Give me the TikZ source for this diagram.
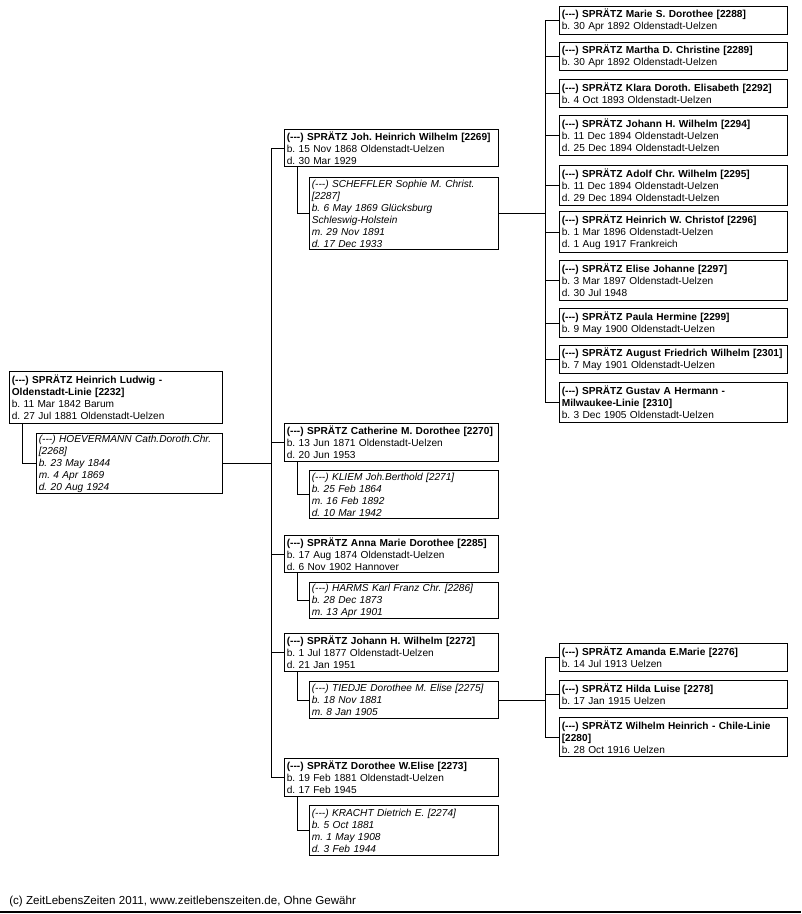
\documentclass[tikz,border=0pt]{standalone}
\usepackage{fontspec}
\setmainfont{Liberation Sans}[Ligatures=TeXOff]
\usetikzlibrary{calc}
\frenchspacing
\newcommand\nm[1]{\mbox{\textbf{#1}}}
\begin{document}
\begin{tikzpicture}[x=0.75pt,y=-0.75pt,
  box/.style={draw, line width=0.75pt, anchor=north west, inner xsep=1.75pt, inner ysep=0pt,
    align=left, font=\fontsize{7.6}{9}\selectfont\frenchspacing},
  rootbox/.style={box, text width=156.25pt},
  rootsp/.style={box, text width=136pt, font=\fontsize{7.6}{9}\selectfont\frenchspacing\itshape},
  child/.style={box, text width=157pt},
  spouse/.style={box, text width=138.25pt, font=\fontsize{7.6}{9}\selectfont\frenchspacing\itshape},
  grand/.style={box, text width=167.5pt},
  conn/.style={line width=0.75pt},
  footer/.style={anchor=base west, inner sep=0pt, font=\fontsize{8.7}{10}\selectfont\frenchspacing}]
\useasboundingbox (0,0) rectangle (801,914);
\fill[white] (0,0) rectangle (801,914);

% generation 1
\node[rootbox, minimum height=39pt] (root) at (9,371)
  {\nm{(---) SPRÄTZ Heinrich Ludwig -}\\\nm{Oldenstadt-Linie [2232]}\\b. 11 Mar 1842 Barum\\d. 27 Jul 1881 Oldenstadt-Uelzen};
\node[rootsp, minimum height=45pt] (s2268) at (36,433)
  {\mbox{(---) HOEVERMANN Cath.Doroth.Chr.}\\{}[2268]\\b. 23 May 1844\\m. 4 Apr 1869\\d. 20 Aug 1924};

% generation 2
\node[child, minimum height=28pt] (c2269) at (284,129)
  {\nm{(---) SPRÄTZ Joh. Heinrich Wilhelm [2269]}\\b. 15 Nov 1868 Oldenstadt-Uelzen\\d. 30 Mar 1929};
\node[spouse, minimum height=54pt] (s2287) at (309,177)
  {(---) SCHEFFLER Sophie M. Christ.\\{}[2287]\\b. 6 May 1869 Glücksburg\\Schleswig-Holstein\\m. 29 Nov 1891\\d. 17 Dec 1933};

\node[child, minimum height=28.5pt] (c2270) at (284,423)
  {\nm{(---) SPRÄTZ Catherine M. Dorothee [2270]}\\b. 13 Jun 1871 Oldenstadt-Uelzen\\d. 20 Jun 1953};
\node[spouse, minimum height=36pt] (s2271) at (309,470)
  {(---) KLIEM Joh.Berthold [2271]\\b. 25 Feb 1864\\m. 16 Feb 1892\\d. 10 Mar 1942};

\node[child, minimum height=28pt] (c2285) at (284,535)
  {\nm{(---) SPRÄTZ Anna Marie Dorothee [2285]}\\b. 17 Aug 1874 Oldenstadt-Uelzen\\d. 6 Nov 1902 Hannover};
\node[spouse, minimum height=27pt] (s2286) at (309,582)
  {(---) HARMS Karl Franz Chr. [2286]\\b. 28 Dec 1873\\m. 13 Apr 1901};

\node[child, minimum height=28.5pt] (c2272) at (284,633)
  {\nm{(---) SPRÄTZ Johann H. Wilhelm [2272]}\\b. 1 Jul 1877 Oldenstadt-Uelzen\\d. 21 Jan 1951};
\node[spouse, minimum height=28pt] (s2275) at (309,681)
  {(---) TIEDJE Dorothee M. Elise [2275]\\b. 18 Nov 1881\\m. 8 Jan 1905};

\node[child, minimum height=28.5pt] (c2273) at (284,758)
  {\nm{(---) SPRÄTZ Dorothee W.Elise [2273]}\\b. 19 Feb 1881 Oldenstadt-Uelzen\\d. 17 Feb 1945};
\node[spouse, minimum height=37.5pt] (s2274) at (309,805)
  {(---) KRACHT Dietrich E. [2274]\\b. 5 Oct 1881\\m. 1 May 1908\\d. 3 Feb 1944};

% generation 3 (children of 2269)
\node[grand, minimum height=21pt] (g2288) at (559,6)
  {\nm{(---) SPRÄTZ Marie S. Dorothee [2288]}\\b. 30 Apr 1892 Oldenstadt-Uelzen};
\node[grand, minimum height=21pt] (g2289) at (559,42)
  {\nm{(---) SPRÄTZ Martha D. Christine [2289]}\\b. 30 Apr 1892 Oldenstadt-Uelzen};
\node[grand, minimum height=21pt] (g2292) at (559,79)
  {\nm{(---) SPRÄTZ Klara Doroth. Elisabeth [2292]}\\b. 4 Oct 1893 Oldenstadt-Uelzen};
\node[grand, minimum height=30pt] (g2294) at (559,115)
  {\nm{(---) SPRÄTZ Johann H. Wilhelm [2294]}\\b. 11 Dec 1894 Oldenstadt-Uelzen\\d. 25 Dec 1894 Oldenstadt-Uelzen};
\node[grand, minimum height=30pt] (g2295) at (559,165)
  {\nm{(---) SPRÄTZ Adolf Chr. Wilhelm [2295]}\\b. 11 Dec 1894 Oldenstadt-Uelzen\\d. 29 Dec 1894 Oldenstadt-Uelzen};
\node[grand, minimum height=30.75pt] (g2296) at (559,211)
  {\nm{(---) SPRÄTZ Heinrich W. Christof [2296]}\\b. 1 Mar 1896 Oldenstadt-Uelzen\\d. 1 Aug 1917 Frankreich};
\node[grand, minimum height=30pt] (g2297) at (559,260)
  {\nm{(---) SPRÄTZ Elise Johanne [2297]}\\b. 3 Mar 1897 Oldenstadt-Uelzen\\d. 30 Jul 1948};
\node[grand, minimum height=21.75pt] (g2299) at (559,308)
  {\nm{(---) SPRÄTZ Paula Hermine [2299]}\\b. 9 May 1900 Oldenstadt-Uelzen};
\node[grand, minimum height=21pt] (g2301) at (559,345)
  {\nm{(---) SPRÄTZ August Friedrich Wilhelm [2301]}\\b. 7 May 1901 Oldenstadt-Uelzen};
\node[grand, minimum height=30pt] (g2310) at (559,382)
  {\nm{(---) SPRÄTZ Gustav A Hermann -}\\\nm{Milwaukee-Linie [2310]}\\b. 3 Dec 1905 Oldenstadt-Uelzen};

% generation 3 (children of 2272)
\node[grand, minimum height=21pt] (g2276) at (559,643)
  {\nm{(---) SPRÄTZ Amanda E.Marie [2276]}\\b. 14 Jul 1913 Uelzen};
\node[grand, minimum height=21pt] (g2278) at (559,680)
  {\nm{(---) SPRÄTZ Hilda Luise [2278]}\\b. 17 Jan 1915 Uelzen};
\node[grand, minimum height=29.25pt] (g2280) at (559,717)
  {\nm{(---) SPRÄTZ Wilhelm Heinrich - Chile-Linie}\\\nm{[2280]}\\b. 28 Oct 1916 Uelzen};

% connectors
\coordinate (trunk) at (271,0);
\coordinate (busA) at (545,0);
\coordinate (busB) at (545,0);

\draw[conn] ($(root.south west)+(13,0)$) |- (s2268.west);
\draw[conn] (s2268.east) -- (s2268.east -| trunk);
\draw[conn] (c2269.west -| trunk) -- (c2273.west -| trunk);
\foreach \c in {c2269,c2270,c2285,c2272,c2273}
  \draw[conn] (\c.west -| trunk) -- (\c.west);

\draw[conn] ($(c2269.south west)+(13,0)$) |- (s2287.west);
\draw[conn] ($(c2270.south west)+(13,0)$) |- (s2271.west);
\draw[conn] ($(c2285.south west)+(13,0)$) |- (s2286.west);
\draw[conn] ($(c2272.south west)+(13,0)$) |- (s2275.west);
\draw[conn] ($(c2273.south west)+(13,0)$) |- (s2274.west);

\draw[conn] (s2287.east) -- (s2287.east -| busA);
\draw[conn] (g2288.west -| busA) -- (g2310.west -| busA);
\foreach \g in {g2288,g2289,g2292,g2294,g2295,g2296,g2297,g2299,g2301,g2310}
  \draw[conn] (\g.west -| busA) -- (\g.west);

\draw[conn] (s2275.east) -- (s2275.east -| busB);
\draw[conn] (g2276.west -| busB) -- (g2280.west -| busB);
\foreach \g in {g2276,g2278,g2280}
  \draw[conn] (\g.west -| busB) -- (\g.west);

% footer
\node[footer] (foot) at (9,904) {(c) ZeitLebensZeiten 2011, www.zeitlebenszeiten.de, Ohne Gewähr};
\draw[line width=1.5pt] (0,912) -- (801,912);
\end{tikzpicture}
\end{document}
